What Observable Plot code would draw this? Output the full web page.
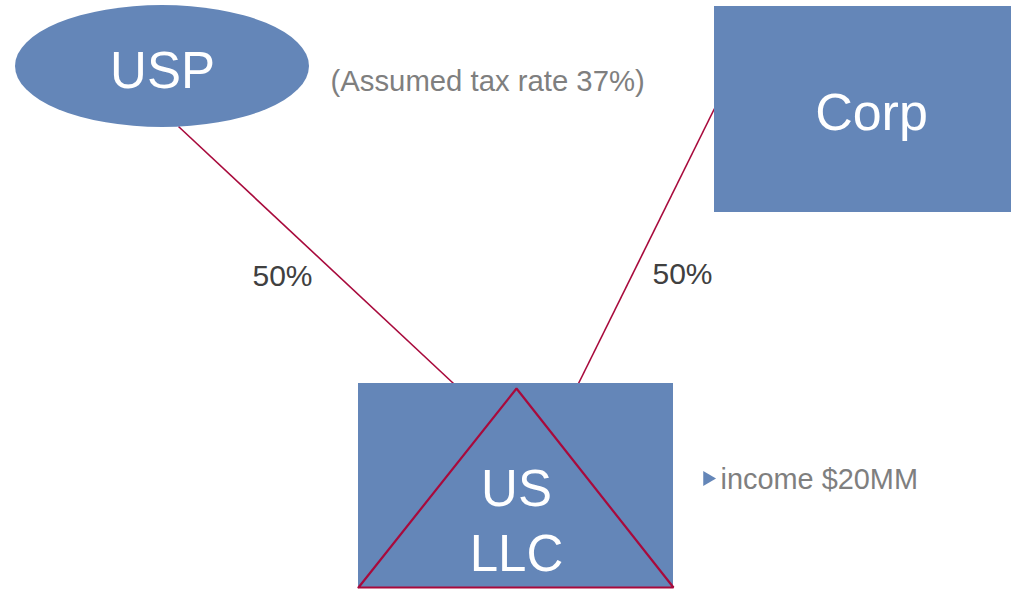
<!DOCTYPE html>
<html>
<head>
<meta charset="utf-8">
<script src="https://cdn.jsdelivr.net/npm/d3@7"></script>
<script src="https://cdn.jsdelivr.net/npm/@observablehq/plot@0.6"></script>
<style>
  html, body { margin: 0; padding: 0; background: #fff; }
  #chart svg { display: block; }
</style>
</head>
<body>
<div id="chart"></div>
<script>
// ---- data ----
const entities = ["USP", "Corp", "US LLC"];
const ownershipLabels = ["50%", "50%"];
const note = "(Assumed tax rate 37%)";
const incomeNote = "income $20MM";

// ---- layout (pixel coordinates in a 1011 x 589 frame) ----
const W = 1011, H = 589;
const BLUE = "#6486B8", RED = "#A80A3C", GRAY = "#7F7F7F", DARK = "#404040";
const FONT = "Liberation Sans, Arial, Helvetica, sans-serif";

const ellipseUSP = {cx: 162, cy: 66, rx: 147, ry: 61};
const boxes = [
  {name: entities[1], x1: 714, x2: 1011, y1: 6, y2: 212},
  {name: entities[2], x1: 358, x2: 673, y1: 383, y2: 588}
];
const links = [
  {x1: 178, y1: 126, x2: 453, y2: 383},
  {x1: 714, y1: 108, x2: 578, y2: 383}
];
const triangle = [
  {x: 358, y: 587}, {x: 516, y: 388}, {x: 673, y: 587}, {x: 358, y: 587}
];
const labels = [
  {text: entities[0], x: 162, y: 87, size: 51, fill: "#fff", anchor: "middle"},
  {text: entities[1], x: 871, y: 129, size: 52, fill: "#fff", anchor: "middle"},
  {text: "US", x: 516, y: 505, size: 51, fill: "#fff", anchor: "middle"},
  {text: "LLC", x: 516, y: 570, size: 51, fill: "#fff", anchor: "middle"},
  {text: ownershipLabels[0], x: 252, y: 285, size: 30, fill: DARK, anchor: "start"},
  {text: ownershipLabels[1], x: 652, y: 283, size: 30, fill: DARK, anchor: "start"},
  {text: note, x: 330, y: 90, size: 29.3, fill: GRAY, anchor: "start"},
  {text: incomeNote, x: 720, y: 488, size: 28.9, fill: GRAY, anchor: "start"}
];
const bullet = [{x: 707, y: 478}];

function ellipseMark(e) {
  return (index, {x, y}) => {
    const el = document.createElementNS("http://www.w3.org/2000/svg", "ellipse");
    el.setAttribute("cx", x(e.cx));
    el.setAttribute("cy", y(e.cy));
    el.setAttribute("rx", Math.abs(x(e.cx + e.rx) - x(e.cx)));
    el.setAttribute("ry", Math.abs(y(e.cy + e.ry) - y(e.cy)));
    el.setAttribute("fill", BLUE);
    return el;
  };
}

const chart = Plot.plot({
  width: W,
  height: H,
  margin: 0,
  x: {domain: [0, W], range: [0, W], axis: null},
  y: {domain: [0, H], range: [0, H], axis: null},
  style: {background: "#fff", fontFamily: FONT},
  marks: [
    Plot.link(links, {x1: "x1", y1: "y1", x2: "x2", y2: "y2", stroke: RED, strokeWidth: 1.6}),
    ellipseMark(ellipseUSP),
    Plot.rect(boxes, {x1: "x1", x2: "x2", y1: "y1", y2: "y2", fill: BLUE, inset: 0}),
    Plot.line(triangle, {x: "x", y: "y", stroke: RED, strokeWidth: 2.2, strokeLinejoin: "miter", curve: "linear"}),
    Plot.dot(bullet, {x: "x", y: "y", symbol: "triangle", rotate: 90, r: 5.5, fill: BLUE, stroke: null}),
    Plot.text(labels, {
      x: "x", y: "y", text: "text",
      fontSize: d => d.size,
      fill: d => d.fill,
      textAnchor: "start",
      lineAnchor: "bottom",
      fontFamily: FONT
    })
  ]
});

// apply per-label anchors
chart.querySelectorAll("text").forEach(t => {
  const lab = labels.find(l => l.text === t.textContent);
  if (lab) t.setAttribute("text-anchor", lab.anchor);
});
document.getElementById("chart").appendChild(chart);
</script>
</body>
</html>
